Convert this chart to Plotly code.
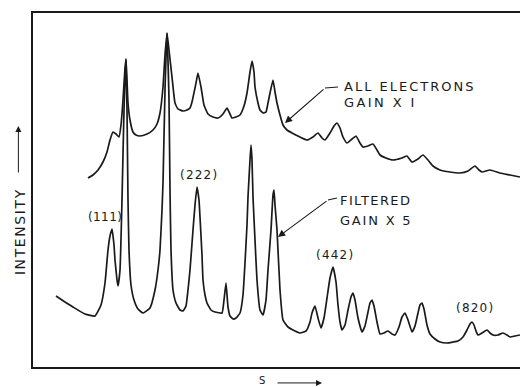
import plotly.graph_objects as go

# Scattering profile, all electrons (gain x1)
s_all = [55, 60, 65, 70, 74, 77, 80, 83, 86, 88, 90, 92, 93, 94, 95, 97, 100, 103, 107, 114,
         120, 124, 127, 130, 132, 134, 136, 139, 142, 145, 150, 154, 157, 159, 163, 165, 168, 171,
         175, 180, 185, 190, 194, 197, 199, 203, 207, 211, 214, 217, 219, 221, 222, 225, 227, 230,
         233, 235, 237, 240, 242, 244, 247, 250, 254, 259, 267, 274, 280, 285, 289, 292, 297, 301,
         304, 307, 310, 314, 319, 323, 327, 330, 335, 340, 344, 347, 353, 360, 369, 374, 379, 385,
         390, 395, 400, 407, 417, 427, 435, 442, 446, 449, 457, 467, 477, 487]
i_all = [189, 192, 197, 205, 215, 227, 235, 233, 230, 242, 267, 299, 308, 287, 264, 247, 235, 232, 231, 233,
         237, 243, 254, 280, 312, 334, 317, 290, 264, 258, 256, 257, 259, 265, 284, 294, 280, 262,
         253, 250, 249, 253, 259, 253, 249, 250, 252, 261, 274, 295, 306, 295, 280, 264, 257, 254,
         255, 264, 274, 287, 275, 264, 252, 242, 237, 234, 230, 227, 230, 234, 229, 227, 234, 241,
         244, 239, 230, 224, 228, 231, 224, 220, 221, 223, 217, 212, 209, 207, 209, 211, 205, 208,
         212, 207, 201, 197, 195, 194, 196, 201, 197, 195, 197, 194, 192, 190]

# Scattering profile, energy filtered (gain x5)
s_filt = [23, 32, 40, 52, 62, 68, 72, 75, 77, 79, 81, 82, 84, 85, 87, 89, 91, 93, 94, 95,
          96, 98, 101, 105, 110, 117, 122, 125, 127, 129, 130, 132, 134, 136, 137, 138, 140, 143,
          147, 150, 153, 155, 157, 160, 162, 164, 166, 167, 169, 170, 172, 174, 178, 182, 189, 191,
          193, 195, 197, 200, 203, 207, 210, 212, 214, 215, 217, 218, 219, 220, 222, 224, 227, 230,
          233, 235, 238, 240, 241, 242, 244, 247, 250, 255, 262, 267, 273, 277, 279, 282, 285, 288,
          291, 294, 297, 300, 303, 305, 307, 309, 312, 315, 318, 320, 322, 325, 329, 332, 335, 337,
          339, 341, 344, 347, 351, 355, 359, 362, 366, 369, 372, 375, 379, 382, 385, 387, 389, 391,
          394, 397, 402, 407, 414, 420, 425, 430, 434, 437, 439, 441, 443, 445, 449, 454, 457, 460,
          465, 470, 474, 477, 482, 487]
i_filt = [71, 65, 60, 53, 51, 62, 84, 117, 131, 138, 122, 107, 87, 81, 97, 167, 257, 308, 257, 167,
          117, 82, 67, 58, 54, 59, 77, 97, 117, 157, 184, 277, 334, 267, 177, 117, 77, 64,
          57, 56, 61, 77, 97, 137, 162, 180, 167, 150, 112, 87, 72, 64, 57, 55, 54, 67,
          84, 60, 51, 48, 49, 54, 72, 104, 142, 170, 207, 222, 207, 170, 127, 87, 57, 52,
          67, 97, 137, 172, 177, 162, 137, 77, 47, 40, 36, 34, 36, 45, 54, 61, 49, 39,
          49, 69, 89, 100, 85, 62, 45, 37, 42, 57, 70, 74, 67, 49, 35, 41, 55, 64,
          67, 61, 45, 33, 34, 36, 33, 32, 40, 50, 54, 47, 35, 41, 54, 62, 64, 58,
          42, 33, 28, 25, 24, 25, 26, 30, 37, 43, 45, 42, 36, 32, 34, 37, 34, 32,
          32, 34, 32, 30, 31, 32]

# Reflection indices and where they are written
hkl_labels = ["(111)", "(222)", "(442)", "(820)"]
hkl_s = [72, 166, 302, 442]
hkl_i = [150, 192, 112, 59]

ink = "#1a1a1a"
FAM = "DejaVu Sans"


def spaced(text, px):
    return f'<span style="letter-spacing:{px}px">{text}</span>'


fig = go.Figure()
for s, i in [(s_all, i_all), (s_filt, i_filt)]:
    fig.add_trace(go.Scatter(x=s, y=i, mode="lines",
                             line=dict(color=ink, width=1.7, shape="spline", smoothing=0.4),
                             hoverinfo="skip", showlegend=False))

# Bent leader lines to the curve labels
fig.add_trace(go.Scatter(x=[305, 292], y=[280, 279], mode="lines",
                         line=dict(color=ink, width=1.1), showlegend=False, hoverinfo="skip"))
fig.add_trace(go.Scatter(x=[304, 295], y=[169, 167], mode="lines",
                         line=dict(color=ink, width=1.1), showlegend=False, hoverinfo="skip"))

lab_font = dict(family=FAM, size=12, color=ink)
txt_font = dict(family=FAM, size=13, color=ink)

ann = []
for t, x, y in zip(hkl_labels, hkl_s, hkl_i):
    ann.append(dict(x=x, y=y, text=spaced(t, 1.2 if t != "(111)" else 0.4),
                    showarrow=False, font=lab_font))

ann += [
    dict(x=309, y=281, text=spaced("ALL ELECTRONS", 2), xanchor="left", showarrow=False, font=txt_font),
    dict(x=309, y=265, text=spaced("GAIN X I", 2.4), xanchor="left", showarrow=False, font=txt_font),
    dict(x=305, y=167, text=spaced("FILTERED", 1.4), xanchor="left", showarrow=False, font=txt_font),
    dict(x=305, y=147, text=spaced("GAIN X 5", 1.8), xanchor="left", showarrow=False, font=txt_font),
    dict(x=252, y=244, ax=292, ay=279, axref="x", ayref="y", text="", showarrow=True,
         arrowhead=2, arrowsize=1.3, arrowwidth=1.1, arrowcolor=ink),
    dict(x=245, y=130, ax=295, ay=167, axref="x", ayref="y", text="", showarrow=True,
         arrowhead=2, arrowsize=1.3, arrowwidth=1.1, arrowcolor=ink),
    # axis captions
    dict(x=-0.047, xref="paper", y=135, text=spaced("INTENSITY", 1.6), textangle=-90, showarrow=False,
         font=dict(family=FAM, size=14, color=ink)),
    dict(x=-0.03, xref="paper", y=241, ax=0, ay=48, text="", showarrow=True,
         arrowhead=2, arrowsize=1.2, arrowwidth=1, arrowcolor=ink),
    dict(x=229, yref="paper", y=-0.06, text="S", showarrow=False,
         font=dict(family=FAM, size=10, color=ink)),
    dict(x=289, yref="paper", y=-0.045, ax=-46, ay=0, text="", showarrow=True,
         arrowhead=2, arrowsize=1.2, arrowwidth=1, arrowcolor=ink),
]

fig.update_layout(
    width=520, height=387,
    margin=dict(l=33, r=0, t=13, b=20),
    paper_bgcolor="white", plot_bgcolor="white",
    annotations=ann,
    xaxis=dict(range=[0, 487], showgrid=False, zeroline=False, showticklabels=False, ticks="",
               showline=True, linecolor=ink, linewidth=1.5, mirror=True),
    yaxis=dict(range=[0, 354], showgrid=False, zeroline=False, showticklabels=False, ticks="",
               showline=True, linecolor=ink, linewidth=1.5),
)

fig.write_html("out.html")
